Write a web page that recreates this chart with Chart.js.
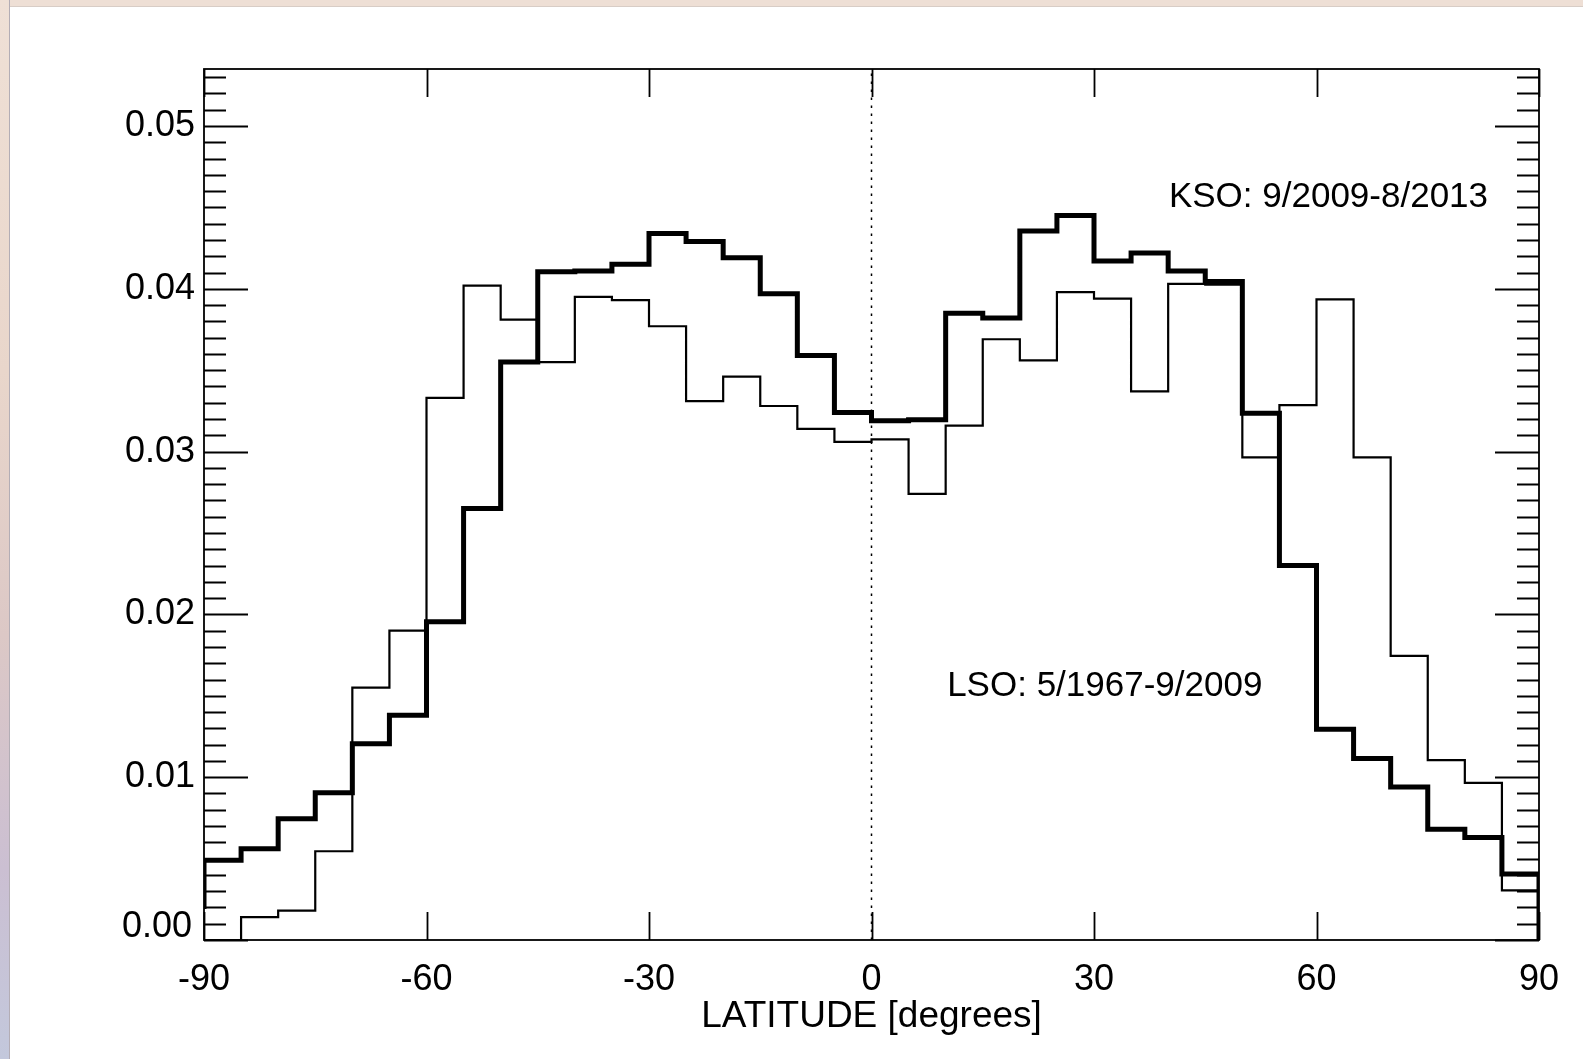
<!DOCTYPE html>
<html>
<head>
<meta charset="utf-8">
<script src="https://cdn.jsdelivr.net/npm/chart.js@4/dist/chart.umd.min.js"></script>
<style>
    html, body { margin: 0; padding: 0; background: #ffffff; }
    #wrap { position: relative; width: 1583px; height: 1059px; overflow: hidden; background: #ffffff; }
    #topStrip { position: absolute; left: 0; top: 0; width: 1583px; height: 6px; background: #eedfd5; border-bottom: 1px solid #d8cdc6; }
    #leftStrip { position: absolute; left: 0; top: 0; width: 9px; height: 1059px;
        background: linear-gradient(to bottom, #efe0d6 0%, #e9d6cb 35%, #dcc8c6 60%, #cbbfd2 82%, #c3c8dc 100%);
        border-right: 1px solid #b3adb5; }
    #chart { position: absolute; left: 0; top: 0; }
</style>
</head>
<body>
<div id="wrap">
    <div id="topStrip"></div>
    <div id="leftStrip"></div>
    <canvas id="chart" width="1583" height="1059"></canvas>
</div>
<script>
// latitude bin edges (5 degree bins)
const binEdges = [-90, -85, -80, -75, -70, -65, -60, -55, -50, -45, -40, -35, -30, -25, -20, -15, -10, -5, 0,
    5, 10, 15, 20, 25, 30, 35, 40, 45, 50, 55, 60, 65, 70, 75, 80, 85, 90];

// KSO: 9/2009-8/2013 (thick line)
const ksoValues = [0.0049, 0.0056, 0.00745, 0.00905, 0.01205, 0.0138, 0.01955, 0.0265, 0.0355, 0.04105, 0.0411, 0.0415,
    0.0434, 0.0429, 0.0419, 0.0397, 0.0359, 0.0324, 0.0319, 0.03195, 0.0385, 0.0382, 0.04355, 0.0445,
    0.0417, 0.0422, 0.0411, 0.04045, 0.03235, 0.0230, 0.01295, 0.01115, 0.0094, 0.0068, 0.0063, 0.00405];
const ksoStart = 0.0019;
const ksoEnd = 0;

// LSO: 5/1967-9/2009 (thin line)
const lsoValues = [0.0, 0.0014, 0.0018, 0.00545, 0.0155, 0.0190, 0.0333, 0.0402, 0.0381, 0.0355, 0.0395, 0.0393,
    0.0377, 0.0331, 0.0346, 0.0328, 0.0314, 0.0306, 0.03075, 0.0274, 0.0316, 0.0369, 0.0356, 0.0398,
    0.0394, 0.0337, 0.0403, 0.04025, 0.02965, 0.03285, 0.03935, 0.02965, 0.01745, 0.01105, 0.00965, 0.00305];
const lsoStart = 0;
const lsoEnd = 0;

// tick labels
const xTickLabels = [-90, -60, -30, 0, 30, 60, 90];
const yTickLabels = ["0.00", "0.01", "0.02", "0.03", "0.04", "0.05"];

const FONT = "'Liberation Sans', Arial, Helvetica, sans-serif";

// turn bin values into the corner points of a step outline
function stepPoints(values, startY, endY) {
    const pts = [{ x: binEdges[0], y: startY }];
    values.forEach((v, i) => {
        pts.push({ x: binEdges[i], y: v });
        pts.push({ x: binEdges[i + 1], y: v });
    });
    pts.push({ x: binEdges[binEdges.length - 1], y: endY });
    return pts;
}

// frame, inward ticks, the shifted 0.00 label, annotations and axis title
const framePlugin = {
    id: "idlFrame",
    afterDatasetsDraw(chart) {
        const ctx = chart.ctx;
        const area = chart.chartArea;
        const xs = chart.scales.x;
        const ys = chart.scales.y;
        ctx.save();
        ctx.strokeStyle = "#000";
        ctx.lineWidth = 1.8;
        ctx.strokeRect(area.left, area.top, area.right - area.left, area.bottom - area.top);

        // y ticks: minor every 0.001, major every 0.01
        ctx.beginPath();
        for (let k = 0; k * 0.001 <= ys.max + 1e-9; k++) {
            const py = Math.round(ys.getPixelForValue(k * 0.001)) + 0.5;
            const len = (k % 10 === 0) ? 44 : 22;
            ctx.moveTo(area.left, py);
            ctx.lineTo(area.left + len, py);
            ctx.moveTo(area.right, py);
            ctx.lineTo(area.right - len, py);
        }
        // x ticks
        xTickLabels.forEach(v => {
            const px = Math.round(xs.getPixelForValue(v)) + 0.5;
            ctx.moveTo(px, area.bottom);
            ctx.lineTo(px, area.bottom - 28);
            ctx.moveTo(px, area.top);
            ctx.lineTo(px, area.top + 28);
        });
        ctx.stroke();

        ctx.fillStyle = "#000";
        ctx.font = "36px " + FONT;
        ctx.textAlign = "right";
        ctx.textBaseline = "middle";
        ctx.fillText(yTickLabels[0], area.left - 12, ys.getPixelForValue(0) - 13);

        ctx.font = "35px " + FONT;
        ctx.textAlign = "left";
        ctx.fillText("KSO: 9/2009-8/2013", xs.getPixelForValue(40.1), ys.getPixelForValue(0.0456));
        ctx.fillText("LSO: 5/1967-9/2009", xs.getPixelForValue(10.2), ys.getPixelForValue(0.0156));

        ctx.font = "37px " + FONT;
        ctx.textAlign = "center";
        ctx.fillText("LATITUDE [degrees]", (area.left + area.right) / 2, 1017);
        ctx.restore();
    }
};

const ctx = document.getElementById("chart").getContext("2d");
new Chart(ctx, {
    type: "line",
    data: {
        datasets: [
            {
                label: "zero",
                data: [{ x: 0, y: 0 }, { x: 0, y: 0.0535 }],
                borderColor: "#000",
                borderWidth: 1.5,
                borderDash: [2.5, 5.5],
                pointRadius: 0
            },
            {
                label: "LSO: 5/1967-9/2009",
                data: stepPoints(lsoValues, lsoStart, lsoEnd),
                borderColor: "#000",
                borderWidth: 2.2,
                pointRadius: 0
            },
            {
                label: "KSO: 9/2009-8/2013",
                data: stepPoints(ksoValues, ksoStart, ksoEnd),
                borderColor: "#000",
                borderWidth: 5,
                pointRadius: 0
            }
        ]
    },
    options: {
        responsive: false,
        animation: false,
        devicePixelRatio: 1,
        layout: { padding: { top: 69, right: 44, left: 0, bottom: 0 } },
        elements: {
            line: { tension: 0, fill: false, borderJoinStyle: "miter", borderCapStyle: "butt" }
        },
        plugins: {
            legend: { display: false },
            tooltip: { enabled: false },
            title: { display: false }
        },
        scales: {
            x: {
                type: "linear",
                min: -90,
                max: 90,
                afterFit: scale => { scale.height = 119; },
                afterBuildTicks: scale => {
                    scale.ticks = xTickLabels.map(v => ({ value: v }));
                },
                grid: { display: false, drawTicks: false },
                border: { display: false },
                ticks: {
                    color: "#000",
                    padding: 18,
                    maxRotation: 0,
                    font: { size: 36, family: FONT },
                    callback: value => String(value)
                }
            },
            y: {
                type: "linear",
                min: 0,
                max: 0.0535,
                afterFit: scale => { scale.width = 204; },
                afterBuildTicks: scale => {
                    scale.ticks = yTickLabels.map(t => ({ value: parseFloat(t) }));
                },
                grid: { display: false, drawTicks: false },
                border: { display: false },
                ticks: {
                    color: "#000",
                    padding: 9,
                    font: { size: 36, family: FONT },
                    callback: value => (value === 0 ? "" : value.toFixed(2))
                }
            }
        }
    },
    plugins: [framePlugin]
});
</script>
</body>
</html>
